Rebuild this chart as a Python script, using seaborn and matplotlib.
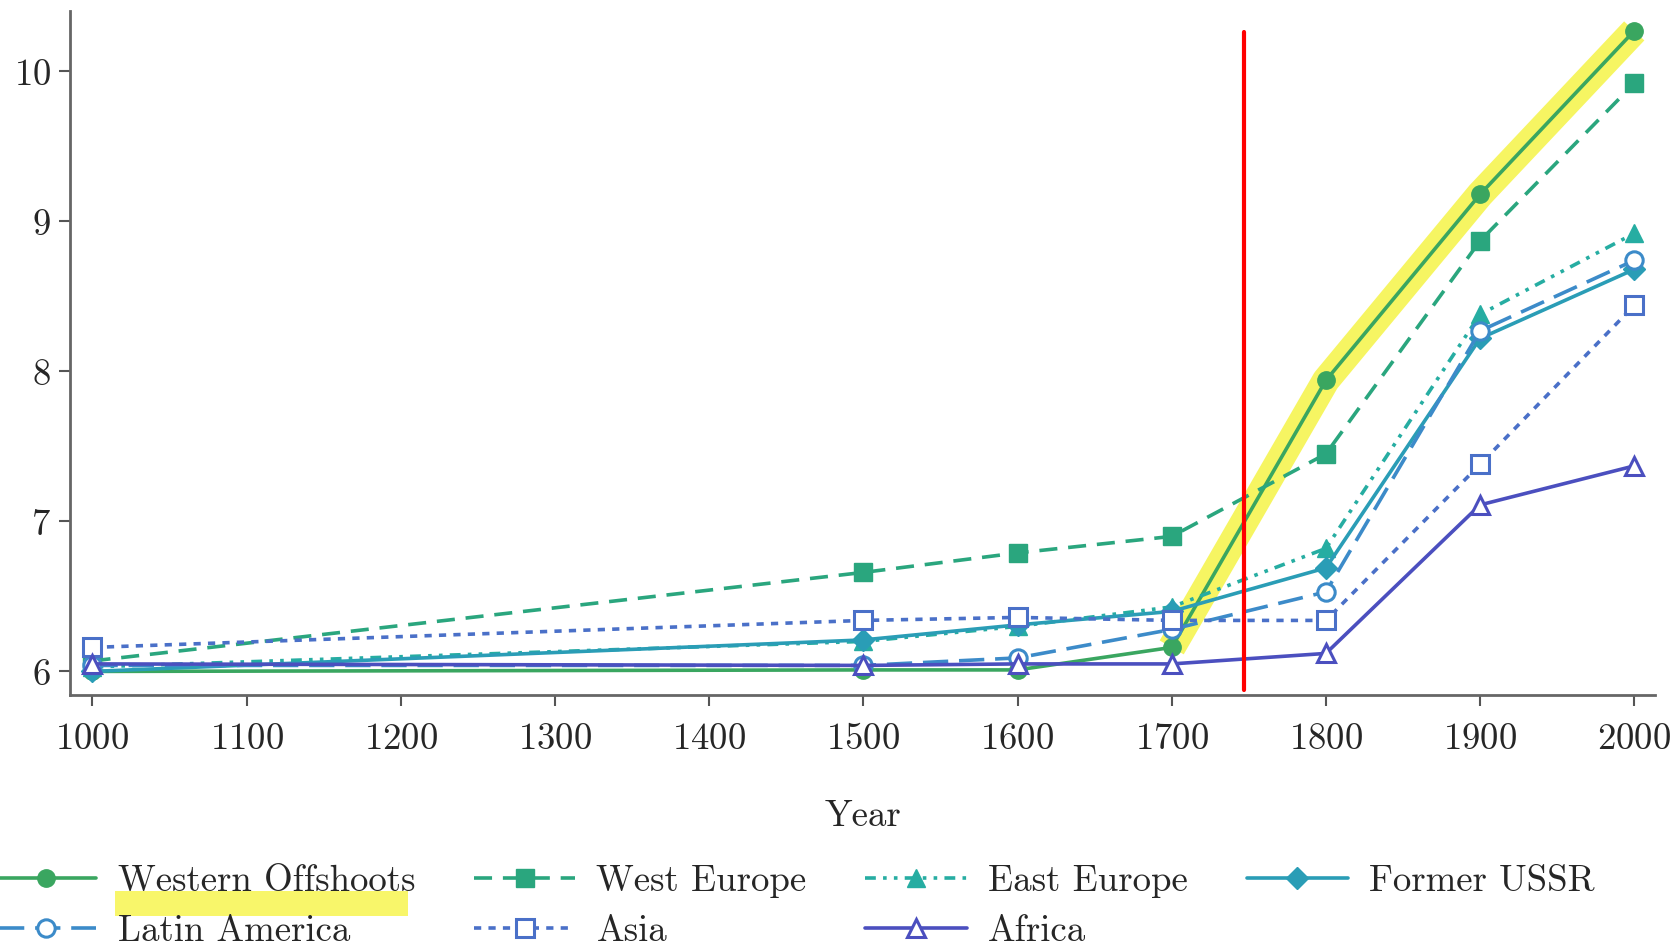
import numpy as np
import pandas as pd
import seaborn as sns
import matplotlib.pyplot as plt
from matplotlib.patches import Rectangle

# log GDP per capita by region
years = [1000, 1500, 1600, 1700, 1800, 1900, 2000]
western_offshoots = [6.00, 6.01, 6.01, 6.16, 7.94, 9.18, 10.27]
west_europe = [6.07, 6.66, 6.79, 6.90, 7.45, 8.87, 9.92]
east_europe = [6.03, 6.20, 6.30, 6.43, 6.82, 8.38, 8.92]
former_ussr = [6.00, 6.21, 6.31, 6.40, 6.69, 8.22, 8.68]
latin_america = [6.04, 6.04, 6.09, 6.28, 6.53, 8.27, 8.74]
asia = [6.16, 6.34, 6.36, 6.34, 6.34, 7.38, 8.44]
africa = [6.05, 6.04, 6.05, 6.05, 6.12, 7.11, 7.37]

regions = ['Western Offshoots', 'West Europe', 'East Europe', 'Former USSR',
           'Latin America', 'Asia', 'Africa']
series = [western_offshoots, west_europe, east_europe, former_ussr,
          latin_america, asia, africa]

colors = ['#3aa660', '#2aa67e', '#26ada2', '#2a9db6', '#3c8bc9', '#4a70c8', '#4b4fbf']
markers = ['o', 's', '^', 'D', 'o', 's', '^']
hollow = [False, False, False, False, True, True, True]
styles = ['-', (0, (5, 3)), (0, (3, 2, 1, 2, 1, 2)), '-', (0, (7, 3)), (0, (2, 2)), '-']

df = pd.DataFrame({'Year': np.tile(years, len(regions)),
                   'value': np.concatenate(series),
                   'Region': np.repeat(regions, len(years))})

sns.set_style('white')
plt.rcParams['font.family'] = ['cmr10', 'DejaVu Serif']
plt.rcParams['axes.formatter.use_mathtext'] = True
plt.rcParams['mathtext.fontset'] = 'cm'

FS = 26.5

fig, ax = plt.subplots(figsize=(16.77, 9.49), dpi=100)
fig.subplots_adjust(left=0.042, right=0.987, top=0.988, bottom=0.268)

# yellow highlighter over the western offshoots take-off
hl = df[(df.Region == 'Western Offshoots') & (df.Year >= 1700)]
ax.plot(hl.Year, hl.value, color='#f4f22e', lw=20, alpha=0.75,
        solid_capstyle='butt', zorder=1)

handles = {}
for i, reg in enumerate(regions):
    sub = df[df.Region == reg]
    sns.lineplot(data=sub, x='Year', y='value', ax=ax, color=colors[i],
                 marker=markers[i], markersize=12.5 if markers[i] != 'D' else 11.5,
                 markerfacecolor='white' if hollow[i] else colors[i],
                 markeredgecolor=colors[i], markeredgewidth=2.2 if hollow[i] else 1,
                 linestyle=styles[i], linewidth=2.6, label=reg, legend=False,
                 zorder=3)
    handles[reg] = ax.lines[-1]

ax.axvline(1747, ymin=0.007, ymax=0.97, color='#ff0000', lw=3, zorder=5)

ax.set_xlim(985.7, 2013.6)
ax.set_ylim(5.845, 10.40)
ax.set_xticks(range(1000, 2001, 100))
ax.set_yticks([6, 7, 8, 9, 10])
ax.set_xlabel('Year', fontsize=FS, labelpad=32)
ax.set_ylabel('')
ax.tick_params(axis='both', labelsize=FS, length=8, width=1.5,
               color='#555555', direction='out', bottom=True, left=True)
ax.tick_params(axis='x', pad=12)
ax.tick_params(axis='y', pad=6)
for s in ['top', 'right']:
    ax.spines[s].set_visible(False)
for s in ['left', 'bottom']:
    ax.spines[s].set_color('#666666')
    ax.spines[s].set_linewidth(2)

order = ['Western Offshoots', 'Latin America', 'West Europe', 'Asia',
         'East Europe', 'Africa', 'Former USSR']
fig.legend([handles[r] for r in order], order, loc='upper left',
           bbox_to_anchor=(-0.003, 0.089), bbox_transform=fig.transFigure,
           ncol=4, frameon=False, fontsize=FS, handlelength=2.75,
           handletextpad=0.58, columnspacing=1.6, labelspacing=0.45,
           borderpad=0, borderaxespad=0)

# yellow marker stroke under the first legend entry
fig.patches.append(Rectangle((115 / 1677, 1 - 916 / 949), 293 / 1677, 25 / 949,
                             transform=fig.transFigure, facecolor='#f8f55a',
                             edgecolor='none', alpha=0.9, zorder=-1))

fig.savefig('out.png', dpi=100)
